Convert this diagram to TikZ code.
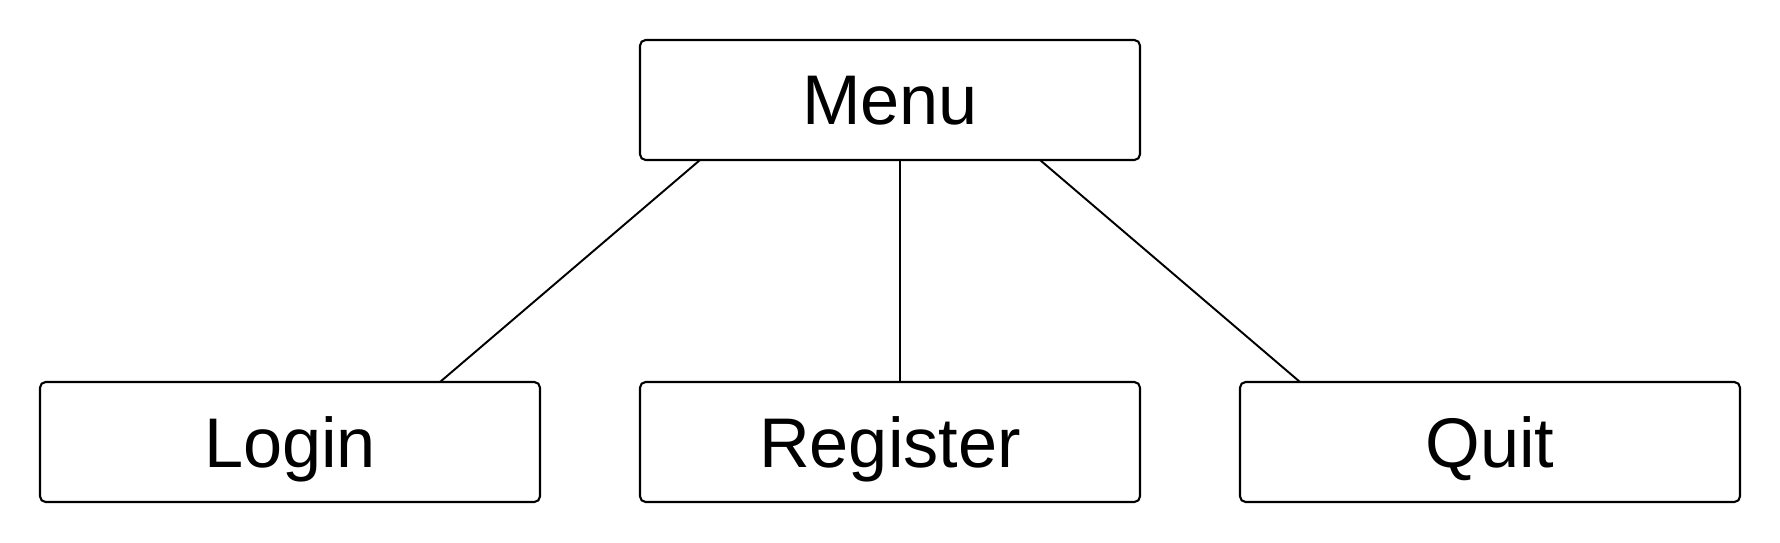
\documentclass[tikz,border=0pt]{standalone}
\usepackage{fontspec}
\setmainfont{Liberation Sans}
\usepackage{tikz}
\usetikzlibrary{calc}

\begin{document}
\begin{tikzpicture}[
  menubox/.style={draw, line width=0.6pt, rounded corners=1.6pt, minimum width=5cm,
    minimum height=1.2cm, inner sep=0pt, outer sep=0pt, text depth=0pt,
    font=\fontsize{20}{24}\selectfont},
  link/.style={line width=0.55pt}]
\useasboundingbox (0,0) rectangle (17.8,5.42);
% boxes
\node[menubox] (menu) at (8.9,4.42) {Menu};
\node[menubox] (login) at (2.9,1.00) {Login};
\node[menubox] (register) at (8.9,1.00) {Register};
\node[menubox] (quit) at (14.9,1.00) {Quit};
% links
\draw[link] ($(menu.south west)+(0.6,0)$) -- ($(login.north east)+(-1,0)$);
\draw[link] ($(menu.south)+(0.1,0)$) -- ($(register.north)+(0.1,0)$);
\draw[link] ($(menu.south east)+(-1,0)$) -- ($(quit.north west)+(0.6,0)$);
\end{tikzpicture}
\end{document}
